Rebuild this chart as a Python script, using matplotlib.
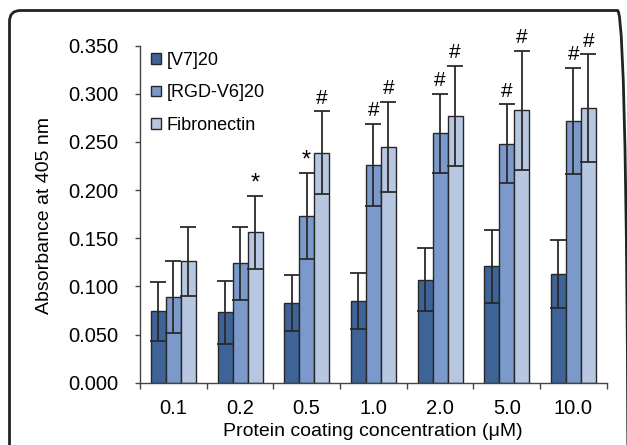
import matplotlib
matplotlib.use("Agg")
import matplotlib.pyplot as plt
import numpy as np
from matplotlib.patches import FancyBboxPatch
from matplotlib.transforms import IdentityTransform

plt.rcParams['font.family'] = ['Liberation Sans', 'DejaVu Sans']

# Данные
concentrations = ['0.1', '0.2', '0.5', '1.0', '2.0', '5.0', '10.0']
series_names = ['[V7]20', '[RGD-V6]20', 'Fibronectin']

v7 = [0.074, 0.073, 0.083, 0.085, 0.107, 0.121, 0.113]
v7_err = [0.031, 0.033, 0.029, 0.029, 0.033, 0.038, 0.035]

rgd = [0.089, 0.124, 0.173, 0.226, 0.259, 0.248, 0.272]
rgd_err = [0.037, 0.038, 0.045, 0.043, 0.041, 0.041, 0.055]

fib = [0.126, 0.156, 0.239, 0.245, 0.277, 0.283, 0.285]
fib_err = [0.036, 0.038, 0.043, 0.047, 0.052, 0.062, 0.056]

# Метки значимости: (серия, группа, символ)
marks = [(2, 1, '*'), (1, 2, '*'), (2, 2, '#'),
         (1, 3, '#'), (2, 3, '#'), (1, 4, '#'), (2, 4, '#'),
         (1, 5, '#'), (2, 5, '#'), (1, 6, '#'), (2, 6, '#')]

colors = ['#3e6497', '#7b9acb', '#b7c7e2']

fig = plt.figure(figsize=(6.27, 4.45), dpi=100)
ax = fig.add_axes([140 / 627, 1 - 382.7 / 445, (606.7 - 140) / 627, (382.7 - 45.7) / 445])

# Рамка вокруг рисунка (в пикселях)
frame = FancyBboxPatch((9.5, -300), 628.5 - 9.5, 445 - 10.5 + 300,
                       boxstyle="round,pad=0,rounding_size=11",
                       transform=IdentityTransform(), fill=False, edgecolor='#222222',
                       linewidth=2.0, clip_on=False)
fig.patches.append(frame)

x = np.arange(len(concentrations))
w = 0.225
values = [v7, rgd, fib]
errors = [v7_err, rgd_err, fib_err]
handles = []
for i in range(3):
    pos = x + (i - 1) * w
    b = ax.bar(pos, values[i], w, color=colors[i], edgecolor='#262626', linewidth=1.0,
               label=series_names[i], zorder=2)
    ax.errorbar(pos, values[i], yerr=errors[i], fmt='none', ecolor='#2a2a2a',
                elinewidth=1.3, capsize=5.5, capthick=1.3, zorder=3)
    handles.append(b)

for s, g, sym in marks:
    top = values[s][g] + errors[s][g]
    off = 2.5 if sym == '#' else 1
    ax.annotate(sym, (x[g] + (s - 1) * w, top), xytext=(0, off), textcoords='offset points',
                ha='center', va='bottom', fontsize=15 if sym == '#' else 17)

ax.set_xlim(-0.5, len(concentrations) - 0.5)
ax.set_ylim(0, 0.35)
ax.set_yticks(np.arange(0, 0.351, 0.05))
ax.set_yticklabels(['%.3f' % v for v in np.arange(0, 0.351, 0.05)])
ax.set_xticks(x)
ax.set_xticklabels(concentrations)
ax.set_xticks(np.arange(-0.5, len(concentrations), 1), minor=True)
ax.tick_params(axis='x', which='major', length=0, pad=12, labelsize=14.5)
ax.tick_params(axis='x', which='minor', length=4.3, width=1, color='#444444')
ax.tick_params(axis='y', length=3.6, width=1, color='#444444', labelsize=14.5, pad=12)

for side in ['top', 'right']:
    ax.spines[side].set_visible(False)
for side in ['left', 'bottom']:
    ax.spines[side].set_color('#444444')
    ax.spines[side].set_linewidth(1)

fig.text(45 / 627, 1 - 215 / 445, 'Absorbance at 405 nm', rotation=90, ha='center', va='center',
         fontsize=14)
fig.text(373 / 627, 1 - 432 / 445, 'Protein coating concentration (\u03bcM)', ha='center',
         va='center', fontsize=14)

ax.legend(handles=handles, loc='upper left', bbox_to_anchor=(151 / 627, 1 - 52 / 445),
          bbox_transform=fig.transFigure, frameon=False, fontsize=13, handlelength=0.55,
          handleheight=0.55, handletextpad=0.3, labelspacing=0.85, borderaxespad=0,
          borderpad=0)

fig.savefig('out.png', dpi=100)
